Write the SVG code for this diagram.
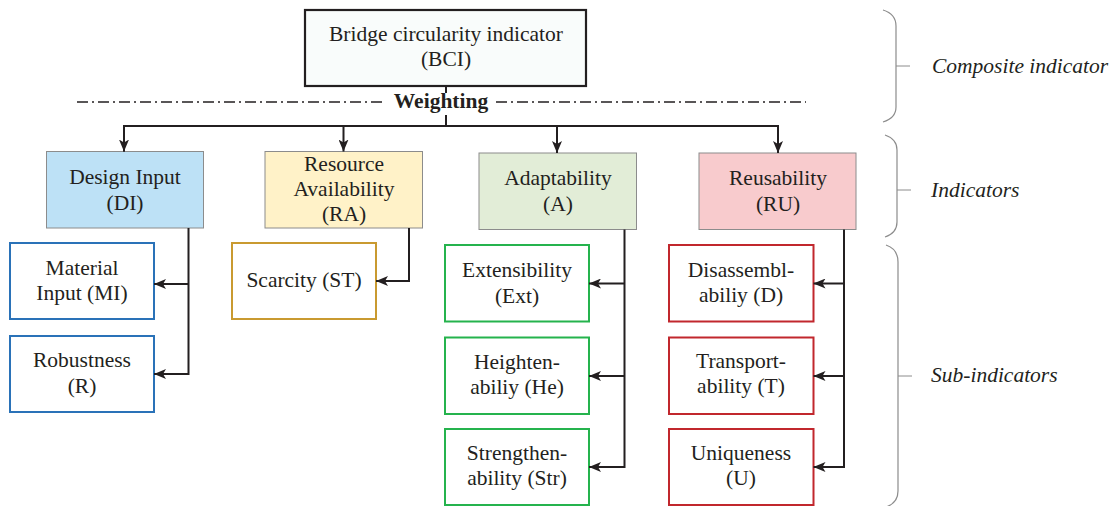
<svg xmlns="http://www.w3.org/2000/svg" width="1120" height="506" viewBox="0 0 1120 506">
<defs>
<marker id="ah" viewBox="0 0 12 10" refX="12" refY="5" markerWidth="12" markerHeight="10" markerUnits="userSpaceOnUse" orient="auto">
<path d="M0,0 L12,5 L0,10 L3,5 z" fill="#231f20"/>
</marker>
<style>
text{font-family:"Liberation Serif","DejaVu Serif",serif;font-size:21.5px;fill:#231f20;text-anchor:middle}
.lab{font-style:italic;text-anchor:start;font-size:21.5px}
.con{fill:none;stroke:#231f20;stroke-width:2}
.brace{fill:none;stroke:#8c8c8c;stroke-width:1.2}
.ind{stroke:#8c8c8c;stroke-width:1}
.sub{fill:#fff;stroke-width:2}
</style>
</defs>
<rect width="1120" height="506" fill="#fff"/>

<g id="bci">
<rect x="305" y="10" width="281" height="76" fill="#f9fcfb" stroke="#231f20" stroke-width="2.2"/>
<text x="446" y="41">Bridge circularity indicator</text>
<text x="446" y="66">(BCI)</text>
</g>

<g id="weighting">
<line x1="77" y1="102" x2="385" y2="102" stroke="#231f20" stroke-width="1.6" stroke-dasharray="11,4,2,4"/>
<line x1="496" y1="102" x2="806" y2="102" stroke="#231f20" stroke-width="1.6" stroke-dasharray="11,4,2,4"/>
<text x="441" y="108" font-weight="bold">Weighting</text>
</g>

<g id="DI">
<rect x="46.5" y="151.5" width="157" height="76.5" fill="#bde1f6" stroke="#8c8c8c" stroke-width="1"/>
<text x="125" y="184">Design Input</text>
<text x="125" y="210">(DI)</text>
</g>
<g id="RA">
<rect x="265" y="151.5" width="157.5" height="76.5" fill="#fff2c8" stroke="#8c8c8c" stroke-width="1"/>
<text x="344" y="171">Resource</text>
<text x="344" y="196">Availability</text>
<text x="344" y="221">(RA)</text>
</g>
<g id="A">
<rect x="479" y="153" width="157.5" height="76.5" fill="#e2edd7" stroke="#8c8c8c" stroke-width="1"/>
<text x="558" y="185">Adaptability</text>
<text x="558" y="211">(A)</text>
</g>
<g id="RU">
<rect x="699" y="153" width="157" height="76.5" fill="#f8cbcd" stroke="#8c8c8c" stroke-width="1"/>
<text x="778" y="185">Reusability</text>
<text x="778" y="211">(RU)</text>
</g>

<g id="MI">
<rect class="sub" x="10" y="243" width="144" height="76" stroke="#2a72b8"/>
<text x="82" y="275">Material</text>
<text x="82" y="300">Input (MI)</text>
</g>
<g id="R">
<rect class="sub" x="10" y="336" width="144" height="76" stroke="#2a72b8"/>
<text x="82" y="367">Robustness</text>
<text x="82" y="393">(R)</text>
</g>
<g id="ST">
<rect class="sub" x="232" y="243" width="144" height="76" stroke="#c99a30"/>
<text x="304" y="287">Scarcity (ST)</text>
</g>
<g id="Ext">
<rect class="sub" x="445" y="245" width="144" height="76.5" stroke="#25b34d"/>
<text x="517" y="277">Extensibility</text>
<text x="517" y="303">(Ext)</text>
</g>
<g id="He">
<rect class="sub" x="445" y="337.5" width="144" height="76.5" stroke="#25b34d"/>
<text x="517" y="369">Heighten-</text>
<text x="517" y="394">abiliy (He)</text>
</g>
<g id="Str">
<rect class="sub" x="445" y="429" width="144" height="76" stroke="#25b34d"/>
<text x="517" y="460">Strengthen-</text>
<text x="517" y="485">ability (Str)</text>
</g>
<g id="D">
<rect class="sub" x="669" y="245" width="144.5" height="76.5" stroke="#c1272d"/>
<text x="741" y="277">Disassembl-</text>
<text x="741" y="302">abiliy (D)</text>
</g>
<g id="T">
<rect class="sub" x="669" y="337.5" width="144.5" height="76.5" stroke="#c1272d"/>
<text x="741" y="368">Transport-</text>
<text x="741" y="393">ability (T)</text>
</g>
<g id="U">
<rect class="sub" x="669" y="429" width="144.5" height="76" stroke="#c1272d"/>
<text x="741" y="460">Uniqueness</text>
<text x="741" y="485">(U)</text>
</g>

<g id="connectors">
<line class="con" x1="446" y1="86" x2="446" y2="93"/>
<line class="con" x1="446" y1="115" x2="446" y2="126"/>
<path class="con" d="M124,151.5 V126 H778 V153" marker-end="url(#ah)"/>
<line class="con" x1="124" y1="126" x2="124" y2="151.5" marker-end="url(#ah)"/>
<line class="con" x1="343.5" y1="126" x2="343.5" y2="151.5" marker-end="url(#ah)"/>
<line class="con" x1="557" y1="126" x2="557" y2="153" marker-end="url(#ah)"/>
<path class="con" d="M188.5,228 V374 H154" marker-end="url(#ah)"/>
<line class="con" x1="188.5" y1="284" x2="154" y2="284" marker-end="url(#ah)"/>
<path class="con" d="M409,228 V281 H376" marker-end="url(#ah)"/>
<path class="con" d="M624.5,229.5 V467 H589" marker-end="url(#ah)"/>
<line class="con" x1="624.5" y1="283.5" x2="589" y2="283.5" marker-end="url(#ah)"/>
<line class="con" x1="624.5" y1="376" x2="589" y2="376" marker-end="url(#ah)"/>
<path class="con" d="M844,229.5 V467 H813.5" marker-end="url(#ah)"/>
<line class="con" x1="844" y1="283.5" x2="813.5" y2="283.5" marker-end="url(#ah)"/>
<line class="con" x1="844" y1="376" x2="813.5" y2="376" marker-end="url(#ah)"/>
</g>

<g id="braces">
<path class="brace" d="M883,10 Q896,14 896,26 V107 Q896,118 883,122"/>
<line class="ind" x1="896" y1="66" x2="910" y2="66"/>
<path class="brace" d="M885,135 Q897,139 897,150 V222 Q897,233 885,237"/>
<line class="ind" x1="897" y1="190" x2="911" y2="190"/>
<path class="brace" d="M886,245 Q898,249 898,262 V491 Q898,503 886,507"/>
<line class="ind" x1="898" y1="376" x2="912" y2="376"/>
<text class="lab" x="932" y="73">Composite indicator</text>
<text class="lab" x="931" y="197">Indicators</text>
<text class="lab" x="931" y="382">Sub-indicators</text>
</g>
</svg>
